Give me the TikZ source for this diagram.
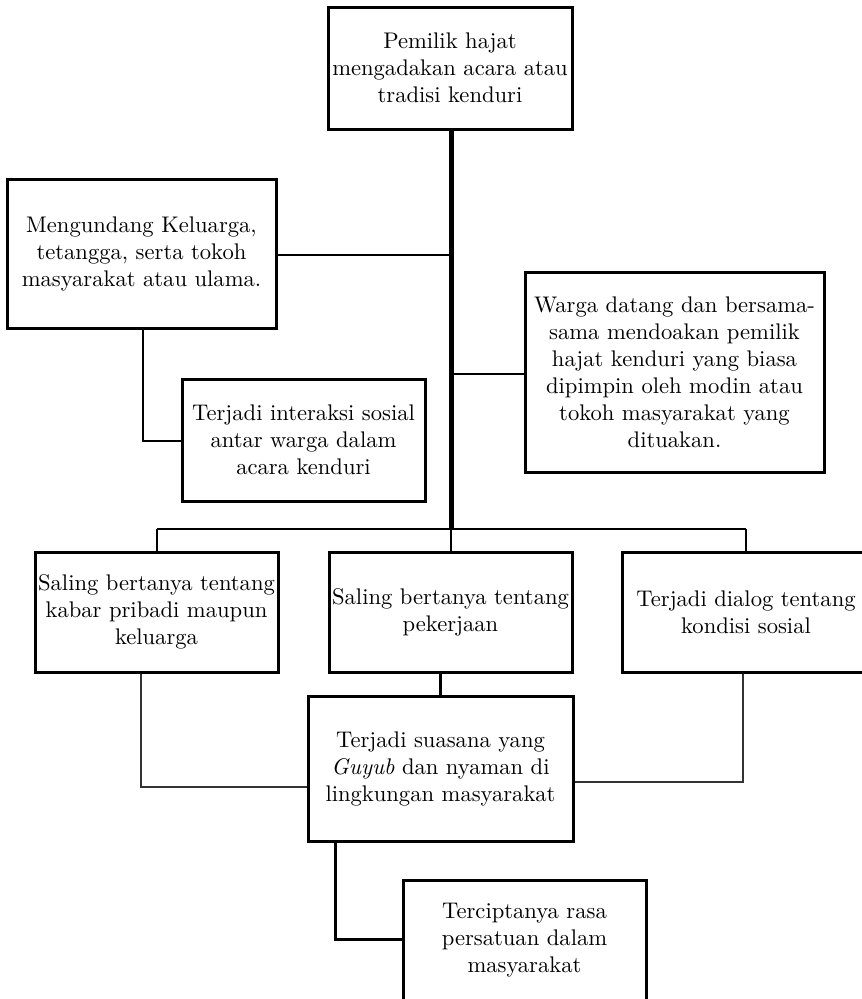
\documentclass[tikz,border=0pt]{standalone}
\usepackage{fontspec}
\setmainfont{lmroman10}[Extension=.otf, UprightFont=*-regular, ItalicFont=*-italic, BoldFont=*-bold]
\begin{document}
\begin{tikzpicture}[x=1pt,y=-1pt,
  box/.style={draw=black, line width=3pt, rectangle, inner sep=0pt, align=center,
    font=\fontsize{22.6}{27}\selectfont},
  conn/.style={draw=black, line width=2.7pt},
  trunk/.style={draw=black, line width=5pt},
  thinconn/.style={draw=black!80, line width=1.3pt}]
\clip (0,0) rectangle (862,999);
\fill[white] (0,0) rectangle (862,999);

\node[box, minimum width=244pt, minimum height=122pt] (top) at (450,68)
  {Pemilik hajat\\mengadakan acara atau\\tradisi kenduri};
\node[box, minimum width=269pt, minimum height=149pt] (meng) at (141.5,253.5)
  {Mengundang Keluarga,\\tetangga, serta tokoh\\masyarakat atau ulama.};
\node[box, minimum width=243pt, minimum height=122pt] (inter) at (303.5,440)
  {Terjadi interaksi sosial\\antar warga dalam\\acara kenduri};
\node[box, minimum width=299pt, minimum height=200pt] (warga) at (674.5,372)
  {Warga datang dan bersama-\\sama mendoakan pemilik\\hajat kenduri yang biasa\\dipimpin oleh modin atau\\tokoh masyarakat yang\\dituakan.};
\node[box, minimum width=243pt, minimum height=120pt] (kabar) at (156.5,612)
  {Saling bertanya tentang\\kabar pribadi maupun\\keluarga};
\node[box, minimum width=243pt, minimum height=120pt] (pek) at (450.5,612)
  {Saling bertanya tentang\\pekerjaan};
\node[box, minimum width=248pt, minimum height=120pt] (dialog) at (746,612)
  {Terjadi dialog tentang\\kondisi sosial};
\node[box, minimum width=265pt, minimum height=145pt] (suas) at (440.5,768.5)
  {Terjadi suasana yang\\\textit{Guyub} dan nyaman di\\lingkungan masyarakat};
\node[box, minimum width=243pt, minimum height=120pt] (terc) at (524.5,940)
  {Terciptanya rasa\\persatuan dalam\\masyarakat};

% bends and junctions
\coordinate (tbar) at (451,529);
\coordinate (tmeng) at (451,255);
\coordinate (twarga) at (451,374);
\coordinate (bl) at (157,529);
\coordinate (br) at (746,529);
\coordinate (mdown) at (143,441);
\coordinate (kdown) at (141,787);
\coordinate (ddown) at (743,782);
\coordinate (sdown) at (335,939);

% trunk
\draw[trunk] (top.south -| tbar) -- (tbar);
\draw[conn] (meng.east |- tmeng) -- (tmeng);
\draw[conn] (twarga) -- (warga.west |- twarga);
\draw[conn] (bl) -- (br);
\draw[conn] (bl) -- (kabar.north -| bl);
\draw[conn] (br) -- (dialog.north -| br);
\draw[conn] (tbar) -- (pek.north -| tbar);
\draw[conn] (meng.south -| mdown) -- (mdown) -- (inter.west |- mdown);
\draw[conn] (pek.south -| suas.north) -- (suas.north);
\draw[thinconn] (kabar.south -| kdown) -- (kdown) -- (suas.west |- kdown);
\draw[thinconn] (dialog.south -| ddown) -- (ddown) -- (suas.east |- ddown);
\draw[conn, line width=3pt] (suas.south -| sdown) -- (sdown) -- (terc.west |- sdown);
\end{tikzpicture}
\end{document}
